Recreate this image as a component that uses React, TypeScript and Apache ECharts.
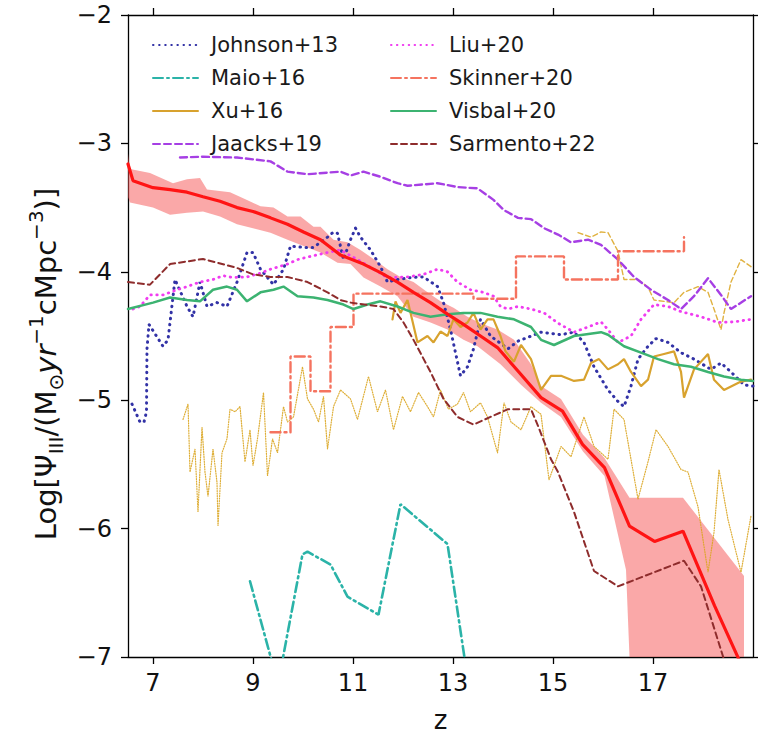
import React, { useEffect, useRef } from "react";
import * as echarts from "echarts";

const FONT = "'DejaVu Sans', 'Liberation Sans', sans-serif";

// axis ticks
const xTicks = [7, 9, 11, 13, 15, 17];

// Pop III star formation rate density: median and scatter band
const sfrdMedian: number[][] = [
  [6.5, -3.16], [6.6, -3.29], [7.0, -3.345], [7.34, -3.36], [7.68, -3.38], [8.0, -3.415],
  [8.34, -3.45], [8.68, -3.5], [9.0, -3.53], [9.35, -3.58], [9.69, -3.63], [10.01, -3.69],
  [10.35, -3.75], [10.75, -3.87], [11.21, -3.94], [11.55, -4.006], [11.89, -4.08],
  [12.21, -4.16], [12.55, -4.24], [12.89, -4.33], [13.21, -4.41], [13.55, -4.5],
  [13.89, -4.59], [14.36, -4.8], [14.76, -4.98], [15.19, -5.085], [15.59, -5.344],
  [16.03, -5.525], [16.53, -5.98], [17.03, -6.1], [17.6, -6.02], [18.23, -6.6], [18.72, -7.02],
];
const sfrdUpper: number[][] = [
  [6.5, -3.08], [6.54, -3.2], [6.94, -3.23], [7.4, -3.31], [7.68, -3.28], [7.94, -3.27],
  [8.08, -3.36], [8.54, -3.38], [8.88, -3.44], [9.15, -3.49], [9.41, -3.5], [9.69, -3.57],
  [9.95, -3.57], [10.21, -3.65], [10.35, -3.65], [10.61, -3.75], [10.89, -3.77],
  [11.15, -3.83], [11.41, -3.9], [11.69, -3.98], [11.95, -4.04], [12.21, -4.08],
  [12.49, -4.16], [12.75, -4.23], [13.01, -4.28], [13.29, -4.35], [13.55, -4.4],
  [13.89, -4.45], [14.22, -4.53], [14.56, -4.72], [14.76, -4.89], [15.16, -4.99],
  [15.6, -5.27], [16.03, -5.45], [16.53, -5.76], [17.6, -5.76], [18.82, -6.37], [18.82, -7.0],
];
const sfrdLower: number[][] = [
  [6.5, -3.42], [6.54, -3.46], [7.0, -3.5], [7.34, -3.555], [7.68, -3.54], [8.0, -3.53],
  [8.34, -3.57], [8.68, -3.63], [9.0, -3.66], [9.35, -3.695], [9.69, -3.75], [10.01, -3.8],
  [10.35, -3.85], [10.69, -3.93], [10.95, -3.94], [11.21, -4.045], [11.55, -4.115],
  [11.89, -4.19], [12.21, -4.35], [12.55, -4.395], [12.89, -4.45], [13.21, -4.53],
  [13.49, -4.58], [13.95, -4.72], [14.36, -4.88], [14.76, -5.02], [15.16, -5.13],
  [15.6, -5.4], [16.03, -5.59], [16.46, -6.32], [16.53, -7.0], [18.82, -7.0],
];

// literature results
const johnson13: number[][] = [
  [6.58, -5.03], [6.74, -5.17], [6.82, -5.17], [6.87, -5.09], [6.88, -4.6], [6.92, -4.41],
  [7.2, -4.58], [7.3, -4.53], [7.44, -4.06], [7.68, -4.27], [7.8, -4.35], [7.94, -4.08],
  [8.08, -4.27], [8.28, -4.24], [8.48, -4.27], [8.68, -4.08], [8.88, -3.85], [9.0, -3.85],
  [9.15, -3.98], [9.29, -4.045], [9.41, -4.1], [9.61, -3.98], [9.75, -3.8], [10.01, -3.81],
  [10.21, -3.81], [10.49, -3.73], [10.61, -3.69], [10.69, -3.7], [10.81, -3.905],
  [10.95, -3.75], [11.05, -3.66], [11.15, -3.73], [11.35, -3.83], [11.55, -3.96],
  [11.69, -4.08], [11.89, -4.06], [12.15, -4.045], [12.41, -4.04], [12.69, -4.115],
  [12.81, -4.24], [12.95, -4.45], [13.15, -4.81], [13.29, -4.74], [13.41, -4.6],
  [13.55, -4.37], [13.75, -4.5], [14.1, -4.6], [14.3, -4.54], [14.5, -4.51], [14.76, -4.47],
  [15.16, -4.49], [15.42, -4.47], [15.62, -4.55], [15.82, -4.74], [16.1, -4.92],
  [16.3, -5.01], [16.42, -5.05], [16.56, -4.89], [16.7, -4.68], [16.9, -4.58],
  [17.06, -4.52], [17.3, -4.55], [17.56, -4.63], [17.82, -4.68], [18.16, -4.76],
  [18.36, -4.71], [18.56, -4.78], [18.82, -4.88], [19.0, -4.89],
];
const maio16: number[][] = [
  [8.94, -6.41], [9.5, -7.21], [9.99, -6.2], [10.09, -6.18], [10.55, -6.28], [10.89, -6.53],
  [11.51, -6.67], [11.95, -5.81], [12.89, -6.12], [13.42, -7.5],
];
const xu16: number[][] = [
  [11.79, -4.37], [11.85, -4.23], [11.95, -4.32], [12.09, -4.22], [12.29, -4.55],
  [12.49, -4.5], [12.61, -4.55], [12.75, -4.465], [12.89, -4.5], [13.01, -4.37],
  [13.15, -4.43], [13.29, -4.395], [13.41, -4.32], [13.55, -4.45], [13.69, -4.37],
  [13.81, -4.37], [13.95, -4.5], [14.05, -4.62], [14.22, -4.7], [14.36, -4.57],
  [14.56, -4.68], [14.76, -4.92], [14.96, -4.81], [15.16, -4.81], [15.42, -4.85],
  [15.62, -4.84], [15.76, -4.71], [15.92, -4.68], [16.1, -4.76], [16.3, -4.72],
  [16.42, -4.68], [16.56, -4.78], [16.76, -4.89], [16.9, -4.84], [17.02, -4.66],
  [17.22, -4.64], [17.42, -4.62], [17.56, -4.78], [17.62, -4.98], [17.82, -4.76],
  [18.1, -4.64], [18.22, -4.84], [18.42, -4.92], [18.76, -4.855], [18.96, -4.84],
];
const xu16Bright: number[][] = [
  [15.5, -3.695], [15.76, -3.73], [15.96, -3.69], [16.1, -3.695], [16.3, -3.84],
  [16.42, -4.06], [16.7, -4.06], [16.9, -4.12], [17.02, -4.22], [17.42, -4.24],
  [17.62, -4.16], [17.9, -4.115], [18.1, -4.16], [18.22, -4.29], [18.36, -4.45],
  [18.42, -4.32], [18.56, -4.08], [18.76, -3.905], [18.96, -3.96],
];
const xu16Faint: number[][] = [
  [7.6, -5.15], [7.7, -5.03], [7.74, -5.56], [7.84, -5.38], [7.9, -5.87], [7.98, -5.21],
  [8.04, -5.56], [8.1, -5.75], [8.2, -5.38], [8.28, -5.64], [8.3, -5.98], [8.38, -5.41],
  [8.48, -5.3], [8.54, -5.07], [8.64, -5.09], [8.74, -5.05], [8.84, -5.48], [8.94, -5.23],
  [9.0, -5.51], [9.09, -5.3], [9.21, -4.94], [9.29, -5.59], [9.39, -5.3], [9.49, -5.41],
  [9.61, -5.05], [9.69, -5.17], [9.81, -5.13], [9.99, -4.74], [10.09, -4.99], [10.21, -5.07],
  [10.31, -5.17], [10.41, -4.97], [10.49, -5.38], [10.61, -5.05], [10.75, -4.92],
  [10.95, -4.99], [11.09, -5.15], [11.31, -4.815], [11.49, -5.09], [11.65, -4.92],
  [11.81, -5.23], [11.99, -4.97], [12.15, -5.09], [12.31, -4.94], [12.49, -5.05],
  [12.61, -5.13], [12.75, -4.92], [12.91, -5.07], [13.09, -5.03], [13.21, -4.94],
  [13.35, -5.09], [13.55, -5.02], [13.69, -5.13], [13.89, -5.41], [14.02, -5.02],
  [14.16, -5.17], [14.36, -5.23], [14.56, -5.05], [14.76, -5.11], [14.92, -5.62],
  [15.16, -5.36], [15.36, -5.44], [15.62, -5.13], [15.82, -5.36], [16.1, -5.46],
  [16.22, -5.07], [16.42, -5.15], [16.7, -5.77], [16.9, -5.48], [17.06, -5.23],
  [17.3, -5.36], [17.56, -5.54], [17.7, -5.56], [17.9, -5.83], [18.1, -6.34],
  [18.22, -6.03], [18.32, -5.54], [18.5, -5.93], [18.76, -6.34], [18.96, -5.9],
];
const jaacks19: number[][] = [
  [7.54, -3.11], [8.0, -3.104], [8.68, -3.11], [9.35, -3.14], [9.69, -3.22], [10.09, -3.24],
  [10.75, -3.22], [10.95, -3.25], [11.21, -3.22], [11.55, -3.26], [11.89, -3.31],
  [12.09, -3.33], [12.69, -3.31], [13.09, -3.34], [13.49, -3.35], [13.81, -3.44],
  [14.02, -3.52], [14.3, -3.58], [14.56, -3.59], [14.82, -3.66], [15.1, -3.71],
  [15.36, -3.77], [15.7, -3.75], [15.96, -3.79], [16.3, -3.905], [16.62, -4.04],
  [16.96, -4.14], [17.3, -4.22], [17.56, -4.29], [17.82, -4.19], [18.1, -4.05],
  [18.36, -4.18], [18.56, -4.29], [18.96, -4.19],
];
const liu20: number[][] = [
  [6.6, -4.29], [6.74, -4.27], [6.94, -4.18], [7.2, -4.18], [7.48, -4.14], [7.68, -4.115],
  [7.94, -4.08], [8.2, -4.06], [8.4, -4.03], [8.6, -4.045], [8.88, -4.04], [9.15, -4.01],
  [9.35, -3.98], [9.69, -3.94], [9.89, -3.905], [10.15, -3.88], [10.49, -3.85],
  [10.75, -3.83], [11.2, -3.93], [11.69, -4.045], [12.09, -4.04], [12.41, -4.02],
  [12.69, -3.98], [12.89, -4.0], [13.09, -4.08], [13.35, -4.14], [13.61, -4.16],
  [13.81, -4.19], [13.95, -4.27], [14.1, -4.29], [14.3, -4.27], [14.56, -4.29],
  [14.82, -4.32], [15.1, -4.4], [15.42, -4.47], [15.7, -4.43], [15.96, -4.39],
  [16.1, -4.45], [16.3, -4.55], [16.56, -4.5], [16.76, -4.37], [17.02, -4.255],
  [17.3, -4.27], [17.56, -4.31], [17.96, -4.35], [18.3, -4.395], [18.62, -4.39], [18.96, -4.37],
];
// step-wise values: each entry starts a new redshift bin
const skinner20: number[][] = [
  [9.35, -5.25], [9.75, -4.66], [10.15, -4.93], [10.55, -4.43], [11.01, -4.17],
  [13.41, -4.21], [14.26, -3.88], [15.22, -4.06], [16.3, -3.84], [17.62, -3.73],
];
const visbal20: number[][] = [
  [6.5, -4.29], [7.0, -4.24], [7.34, -4.2], [7.68, -4.22], [7.94, -4.23], [8.2, -4.14],
  [8.48, -4.115], [8.68, -4.14], [8.88, -4.23], [9.15, -4.16], [9.41, -4.14], [9.61, -4.115],
  [9.89, -4.19], [10.21, -4.2], [10.49, -4.22], [10.81, -4.255], [11.01, -4.29],
  [11.29, -4.255], [11.55, -4.23], [11.89, -4.27], [12.21, -4.32], [12.55, -4.35],
  [12.89, -4.33], [13.21, -4.32], [13.55, -4.32], [13.89, -4.35], [14.22, -4.37],
  [14.56, -4.43], [14.76, -4.53], [15.02, -4.57], [15.42, -4.5], [15.96, -4.47],
  [16.1, -4.49], [16.42, -4.58], [16.76, -4.63], [17.1, -4.68], [17.42, -4.72],
  [17.76, -4.74], [18.1, -4.78], [18.42, -4.815], [18.76, -4.84], [19.0, -4.85],
];
const sarmento22: number[][] = [
  [6.5, -4.08], [6.94, -4.1], [7.34, -3.94], [8.0, -3.9], [8.68, -3.97], [9.0, -4.02],
  [9.35, -4.04], [9.69, -4.04], [10.09, -4.08], [10.49, -4.16], [10.75, -4.22],
  [10.95, -4.24], [11.55, -4.27], [11.81, -4.29], [12.01, -4.395], [12.21, -4.53],
  [12.55, -4.78], [12.81, -4.99], [13.09, -5.13], [13.41, -5.19], [13.75, -5.13],
  [14.1, -5.07], [14.56, -5.07], [14.7, -5.2], [14.96, -5.46], [15.1, -5.56], [15.42, -5.87],
  [15.82, -6.33], [16.3, -6.45], [16.76, -6.38], [17.62, -6.25], [17.96, -6.45], [18.42, -7.02],
];

const legendLeft = ["Johnson+13", "Maio+16", "Xu+16", "Jaacks+19"];
const legendRight = ["Liu+20", "Skinner+20", "Visbal+20", "Sarmento+22"];

const minus = (v: number) => String(v).replace("-", "\u2212");

function lineSeries(
  name: string,
  data: number[][],
  color: string,
  width: number,
  type: any,
  extra: any = {}
) {
  return {
    type: "line",
    name,
    data,
    symbol: "none",
    showSymbol: false,
    clip: true,
    color,
    lineStyle: { color, width, type, cap: "round" },
    z: extra.z ?? 3,
    step: extra.step,
    silent: true,
  };
}

export default function App() {
  const ref = useRef<HTMLDivElement>(null);

  useEffect(() => {
    if (!ref.current) return;
    const chart = echarts.init(ref.current, undefined, { renderer: "svg" });

    const legendBase = {
      orient: "vertical",
      top: 29,
      itemWidth: 45,
      itemHeight: 12,
      itemGap: 11,
      selectedMode: false,
      itemStyle: { color: "transparent", borderColor: "transparent", borderWidth: 0, opacity: 0 },
      textStyle: {
        fontSize: 21,
        fontFamily: FONT,
        color: "#1a1a1a",
        lineHeight: 22,
        padding: [0, 0, 0, 8],
      },
    };

    const axisLine = { show: true, onZero: false, lineStyle: { color: "#000", width: 1.3 } };
    const tickStyle = { color: "#000", width: 1.3 };

    const option: any = {
      animation: false,
      backgroundColor: "#ffffff",
      grid: { left: 128, right: 5, top: 15, bottom: 80, containLabel: false },
      legend: [
        { ...legendBase, data: legendLeft, left: 147 },
        { ...legendBase, data: legendRight, left: 385 },
      ],
      xAxis: [
        {
          type: "value",
          min: 6.5,
          max: 19,
          position: "bottom",
          axisLine,
          axisTick: { show: true, customValues: xTicks, length: 7, lineStyle: tickStyle },
          axisLabel: {
            customValues: xTicks,
            fontSize: 24,
            fontFamily: FONT,
            color: "#111",
            margin: 14,
          },
          splitLine: { show: false },
          name: "z",
          nameLocation: "middle",
          nameGap: 50,
          nameTextStyle: { fontSize: 26, fontFamily: FONT, color: "#111" },
        },
        {
          type: "value",
          min: 6.5,
          max: 19,
          position: "top",
          axisLine,
          axisTick: { show: true, customValues: xTicks, length: 7, lineStyle: tickStyle },
          axisLabel: { show: false },
          splitLine: { show: false },
        },
      ],
      yAxis: [
        {
          type: "value",
          min: -7,
          max: -2,
          interval: 1,
          position: "left",
          axisLine,
          axisTick: { show: true, length: 7, lineStyle: tickStyle },
          axisLabel: {
            fontSize: 24,
            fontFamily: FONT,
            color: "#111",
            margin: 16,
            formatter: (v: number) => minus(v),
          },
          splitLine: { show: false },
        },
        {
          type: "value",
          min: -7,
          max: -2,
          interval: 1,
          position: "right",
          axisLine,
          axisTick: { show: true, length: 7, lineStyle: tickStyle },
          axisLabel: { show: false },
          splitLine: { show: false },
        },
      ],
      graphic: [
        {
          type: "text",
          x: 46,
          y: 364,
          rotation: Math.PI / 2,
          silent: true,
          style: {
            text:
              "{n|Log[\u03a8}{sub|III}{n|/(M}{sub|\u2299}{it|yr}{sup|\u22121}{n|cMpc}{sup|\u22123}{n|)]}",
            align: "center",
            verticalAlign: "middle",
            fill: "#111",
            rich: {
              n: { fontSize: 29, fontFamily: FONT, lineHeight: 40, verticalAlign: "middle", fill: "#111" },
              it: { fontSize: 29, fontFamily: FONT, fontStyle: "italic", lineHeight: 40, verticalAlign: "middle", fill: "#111" },
              sub: { fontSize: 20, fontFamily: FONT, lineHeight: 20, verticalAlign: "bottom", fill: "#111" },
              sup: { fontSize: 20, fontFamily: FONT, lineHeight: 20, verticalAlign: "top", fill: "#111" },
            },
          },
        },
      ],
      series: [
        {
          type: "custom",
          name: "scatter band",
          coordinateSystem: "cartesian2d",
          xAxisIndex: 0,
          yAxisIndex: 0,
          clip: true,
          silent: true,
          z: 1,
          data: [sfrdUpper[0]],
          renderItem: (_params: any, api: any) => {
            const pts = sfrdUpper
              .map((p) => api.coord(p))
              .concat(sfrdLower.slice().reverse().map((p) => api.coord(p)));
            return {
              type: "polygon",
              shape: { points: pts },
              style: { fill: "rgba(246, 82, 82, 0.5)", stroke: "none" },
            };
          },
        },
        lineSeries("Xu+16 faint", xu16Faint, "rgba(218,165,32,0.9)", 1.2, [1, 1.5], { z: 2 }),
        lineSeries("Xu+16 bright", xu16Bright, "rgba(218,165,32,0.85)", 1.4, [5, 3], { z: 2 }),
        lineSeries("Johnson+13", johnson13, "#3232a6", 3, [0.5, 5.6]),
        lineSeries("Maio+16", maio16, "#2bb3a8", 2.6, [10, 4, 2, 4]),
        lineSeries("Xu+16", xu16, "#d8a22e", 2.2, "solid"),
        lineSeries("Jaacks+19", jaacks19, "#a63fe4", 2.4, [7, 4]),
        lineSeries("Liu+20", liu20, "#f03cf0", 2.8, [0.5, 5.4]),
        lineSeries("Skinner+20", skinner20, "#f5735f", 2.4, [10, 4, 2, 4], { step: "end" }),
        lineSeries("Visbal+20", visbal20, "#3cb371", 2.5, "solid"),
        lineSeries("Sarmento+22", sarmento22, "#8e2c2c", 2, [6, 4]),
        lineSeries("Pop III SFRD", sfrdMedian, "#ff1414", 3.2, "solid", { z: 5 }),
      ],
    };

    chart.setOption(option);
    return () => chart.dispose();
  }, []);

  return (
    <div
      ref={ref}
      style={{ position: "fixed", left: 0, top: 0, width: 758, height: 738, background: "#fff" }}
    />
  );
}
